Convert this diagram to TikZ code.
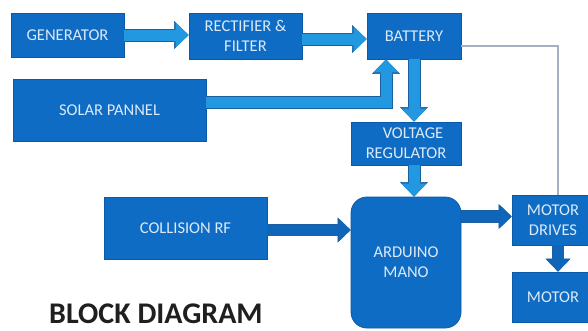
\documentclass[tikz,border=0pt]{standalone}
\usepackage{fontspec}
\setmainfont{Carlito}
\usetikzlibrary{arrows.meta,calc}
\definecolor{boxblue}{HTML}{0E6CC4}
\definecolor{boxedge}{HTML}{0B5AA6}
\definecolor{boxtext}{HTML}{DCE9F7}
\definecolor{arrowlight}{HTML}{2198E0}
\definecolor{arrowedge}{HTML}{1A5F9F}
\definecolor{arrowdark}{HTML}{0F66B8}
\definecolor{wire}{HTML}{A3B1C2}
\begin{document}
\begin{tikzpicture}[x=1pt,y=-1pt,
  box/.style={rectangle, fill=boxblue, draw=boxedge, line width=0.8pt, text=boxtext,
    font=\fontsize{16.5}{20}\selectfont, align=center, inner sep=0pt},
  lightarrow/.style={draw=arrowlight, line width=11pt, line join=miter,
    -{Triangle[width=25pt,length=13pt,line width=0.5pt,fill=arrowlight,color=arrowlight]},
    preaction={draw=arrowedge, line width=13pt, line join=miter,
      -{Triangle[width=28pt,length=14.5pt,line width=0.5pt,fill=arrowedge,color=arrowedge]}}},
  darkarrow/.style={draw=arrowdark, line width=11pt,
    -{Triangle[width=23pt,length=12pt,line width=0.5pt,fill=arrowdark,color=arrowdark]},
    preaction={draw=arrowedge, line width=12.5pt,
      -{Triangle[width=25pt,length=13pt,line width=0.5pt,fill=arrowedge,color=arrowedge]}}},
  wireline/.style={draw=wire, line width=1.6pt}
]
\useasboundingbox (0,0) rectangle (588,330);
\fill[white] (0,0) rectangle (588,330);

% boxes
\node[box, minimum width=113pt, minimum height=44pt] (gen) at (67.5,35) {GENERATOR};
\node[box, minimum width=113pt, minimum height=46pt] (rect) at (245.5,36) {RECTIFIER \&\\FILTER};
\node[box, minimum width=94pt, minimum height=46pt] (bat) at (414,36) {BATTERY};
\node[box, minimum width=193pt, minimum height=62pt] (solar) at (109.5,110) {SOLAR PANNEL};
\node[box, minimum width=110pt, minimum height=43pt] (vr) at (406,143.5) {\hspace*{14pt}VOLTAGE\\REGULATOR};
\node[box, rounded corners=16pt, minimum width=110pt, minimum height=131pt] (ard) at (406,262.5) {ARDUINO\\MANO};
\node[box, minimum width=163pt, minimum height=62pt] (col) at (185.5,228) {COLLISION RF};
\node[box, minimum width=82pt, minimum height=50pt] (md) at (553,220) {MOTOR\\DRIVES};
\node[box, minimum width=82pt, minimum height=50pt] (mot) at (553,297) {MOTOR};

% title
\node[anchor=base west, inner sep=0pt, text=black!88, font=\fontsize{30}{34}\selectfont\bfseries] (title) at (49,323) {BLOCK DIAGRAM};

% connectors
\draw[lightarrow] (gen.east) -- (gen.east -| rect.west);
\draw[lightarrow] ([yshift=-3pt]rect.east) -- ([yshift=-3pt]rect.east -| bat.west);
\draw[lightarrow] ([yshift=8pt]solar.east) -| ([xshift=-28pt]bat.south);
\draw[lightarrow] (bat.south) -- (bat.south |- vr.north);
\draw[lightarrow] (bat.south |- vr.south) -- (bat.south |- ard.north);
\draw[darkarrow] ([yshift=-2pt]col.east) -- ([yshift=-2pt]col.east -| ard.west);
\draw[darkarrow] ([yshift=46pt]ard.east) -- ([yshift=46pt]ard.east -| md.west);
\draw[darkarrow] ([xshift=5pt]md.south) -- ([xshift=5pt]mot.north);
\draw[wireline] ([yshift=-10pt]bat.east) -| ([xshift=5pt]md.north);
\end{tikzpicture}
\end{document}
